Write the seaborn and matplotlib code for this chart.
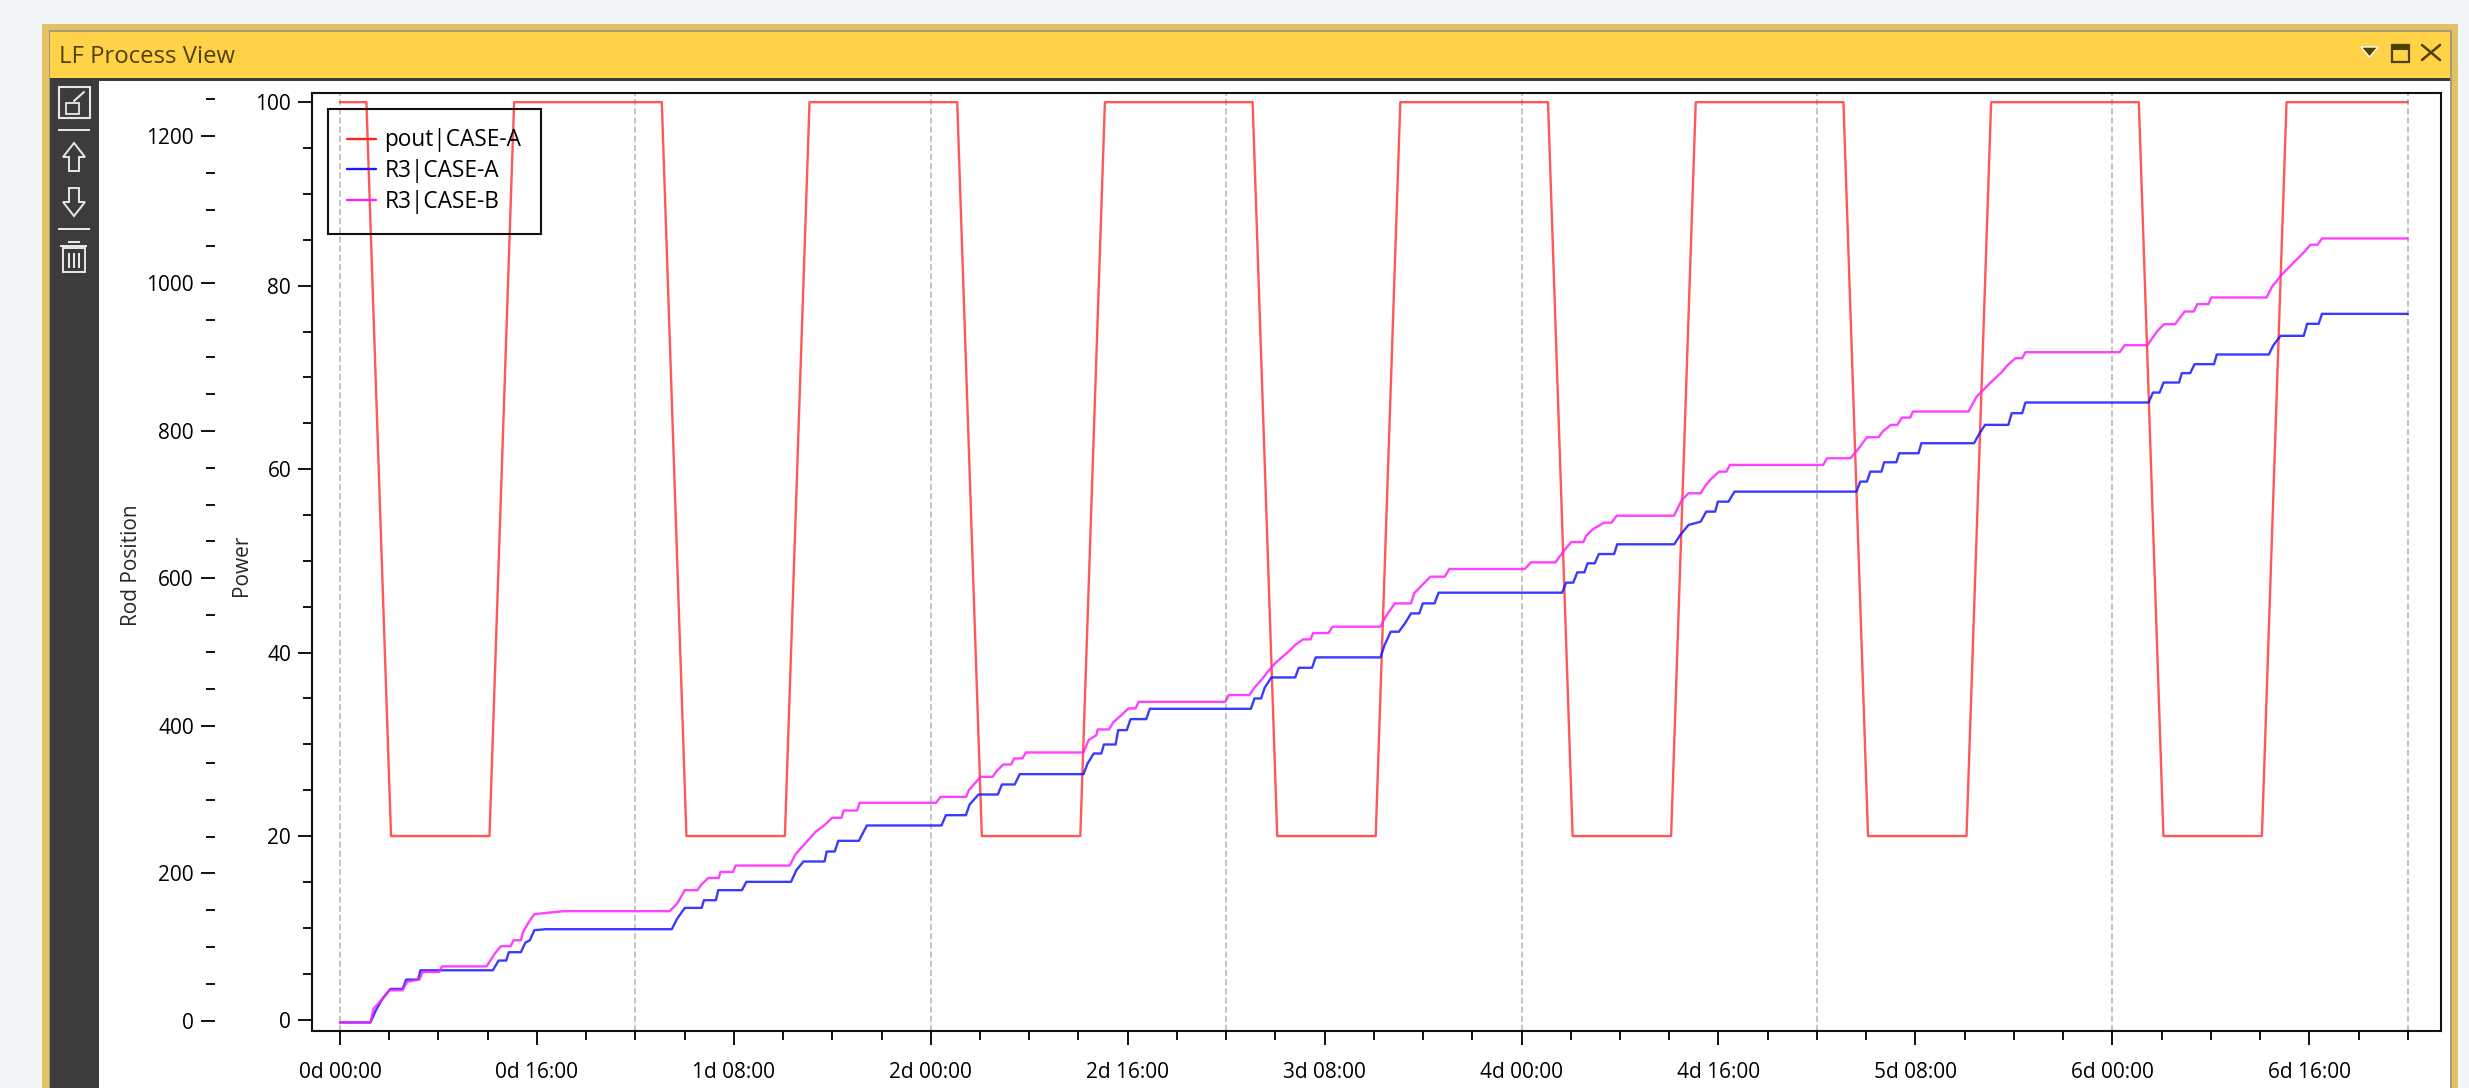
import matplotlib
matplotlib.use("Agg")
import matplotlib.pyplot as plt
import numpy as np
import seaborn as sns
from matplotlib.lines import Line2D
from matplotlib.patches import Polygon, Rectangle
from matplotlib.ticker import FixedLocator, MultipleLocator

# power schedule, hours from start
power_hours = [0, 2.15, 4.15, 12.15, 14.15, 26.15, 28.15, 36.15, 38.15, 50.15, 52.15, 60.15, 62.15, 74.15,
               76.15, 84.15, 86.15, 98.15, 100.15, 108.15, 110.15, 122.15, 124.15, 132.15, 134.15, 146.15,
               148.15, 156.15, 158.15, 168]
power_values = [100, 100, 20, 20, 100, 100, 20, 20, 100, 100, 20, 20, 100, 100, 20, 20, 100, 100, 20, 20,
                100, 100, 20, 20, 100, 100, 20, 20, 100, 100]

case_a_hours = [0, 2.48, 2.92, 3.46, 4.11, 5.09, 5.38, 6.36, 6.54, 12.42, 12.89, 13.51, 13.72, 14.7, 15.07,
                15.43, 15.79, 16.7, 26.96, 27.4, 28.02, 29.39, 29.57, 30.55, 30.73, 32.66, 33.02, 36.65,
                37.08, 37.66, 39.37, 39.55, 40.2, 40.49, 42.16, 42.81, 48.87, 49.23, 50.86, 51.16, 51.88,
                53.45, 53.78, 54.82, 55.23, 60.41, 60.74, 61.24, 61.86, 62.07, 63.02, 63.23, 63.93, 64.23,
                65.51, 65.8, 74.01, 74.3, 74.84, 75.13, 75.67, 77.61, 77.9, 78.98, 79.27, 84.54, 84.87,
                85.37, 86.03, 86.53, 87.02, 87.69, 87.98, 88.93, 89.26, 99.29, 99.62, 100.2, 100.53, 101.11,
                101.36, 101.94, 102.28, 103.52, 103.77, 108.41, 108.89, 109.56, 110.56, 111.0, 111.73,
                111.95, 112.81, 113.3, 123.21, 123.52, 124.06, 124.33, 125.24, 125.46, 126.45, 126.68,
                128.25, 128.48, 132.76, 133.21, 133.66, 135.55, 135.82, 136.67, 136.94, 146.94, 147.3,
                147.84, 148.16, 149.42, 149.64, 150.32, 150.68, 152.26, 152.48, 156.71, 157.07, 157.66,
                159.55, 159.82, 160.76, 161.03, 168]
case_a_rod = [-2, -2, 14.5, 30.3, 43.4, 43.4, 56.1, 56.1, 68.7, 68.7, 81.9, 81.9, 93.2, 93.2, 106.3,
              109.4, 123, 124.4, 124.4, 138.8, 153.3, 153.3, 163.7, 163.7, 177.3, 177.3, 188.6, 188.6,
              204.4, 216.2, 216.2, 229.7, 229.7, 244.2, 244.2, 265, 265, 279, 279, 293.5, 307,
              307, 320.6, 320.6, 334.6, 334.6, 349, 362.6, 362.6, 374.8, 374.8, 394.3, 394.3, 409.2,
              409.2, 423.2, 423.2, 437.2, 437.2, 451.7, 465.7, 465.7, 478.8, 478.8, 492.9, 492.9, 509.6,
              527.7, 527.7, 539, 552.5, 552.5, 566.1, 566.1, 580.6, 580.6, 594.2, 594.2, 608.2, 608.2,
              620.4, 620.4, 633, 633, 646.2, 646.2, 658.8, 672.4, 676.9, 690.5, 690.5,
              704, 704, 717.6, 717.6, 731.2, 731.2, 744.7, 744.7, 757.4, 757.4, 769.6,
              769.6, 783.2, 783.2, 796.7, 808.1, 808.1, 823.9, 823.9, 838.4, 838.4, 851.9,
              851.9, 865.5, 865.5, 878.2, 878.2, 890.4, 890.4, 903.5, 903.5, 915.7, 928.8,
              928.8, 945.1, 945.1, 958.6, 958.6]

case_b_hours = [0, 2.48, 2.73, 3.46, 4.0, 5.09, 5.45, 6.47, 6.72, 8.07, 8.28, 11.91, 12.64, 13.07, 13.87,
                14.09, 14.7, 14.89, 15.32, 15.79, 17.06, 18.15, 26.78, 27.4, 28.02, 29.03, 29.39, 29.94,
                30.77, 30.92, 31.93, 32.15, 36.54, 37.01, 37.55, 38.1, 38.64, 39.37, 39.98, 40.75, 40.93,
                42.01, 42.23, 48.44, 48.8, 50.88, 51.09, 51.62, 52.04, 53.03, 53.37, 53.9, 54.53, 54.77,
                55.44, 55.73, 60.41, 60.83, 61.45, 61.57, 62.48, 62.82, 63.4, 64.06, 64.64, 64.89, 71.93,
                72.22, 73.88, 74.3, 74.92, 75.42, 75.96, 76.58, 77.2, 77.61, 78.24, 78.86, 79.06, 80.31,
                80.64, 84.54, 84.95, 85.7, 87.02, 87.27, 87.98, 88.6, 89.76, 90.13, 96.27, 96.76, 98.75,
                99.08, 99.5, 100.04, 101.03, 101.24, 101.78, 102.69, 103.31, 103.73, 108.38, 109.02,
                109.56, 110.56, 110.92, 111.37, 112.04, 112.63, 112.94, 120.51, 120.82, 122.71, 123.3,
                124.06, 125.01, 125.33, 126.0, 126.54, 126.9, 127.58, 127.8, 132.31, 132.98, 133.66,
                134.33, 135.01, 135.46, 136.13, 136.67, 136.94, 144.6, 145, 146.85, 147.62, 148.2, 149.1,
                149.87, 150.63, 150.9, 151.8, 152.03, 156.53, 156.98, 157.75, 158.42, 159.1, 159.55,
                160.09, 160.67, 161.03, 168]
case_b_rod = [-2, -2, 16.7, 30, 41.6, 41.6, 53, 56.5, 66.5, 66.5, 74, 74, 92.7, 101.3, 101.3,
              109.4, 109.4, 120.8, 133.4, 144.7, 147, 148.8, 148.8, 159.2, 177.3, 177.3, 185.4, 194,
              194, 202, 202, 210.7, 210.7, 226, 236, 246, 256.4, 265.5, 275.4, 275.4, 285.3,
              285.3, 295.8, 295.8, 303.8, 303.8, 312.9, 322.8, 331, 331, 339.1, 347.7, 347.7, 355.9,
              355.9, 364, 364, 380.7, 387.5, 395.2, 395.2, 404.7, 413.3, 423.7, 423.7, 432.7, 432.7,
              441.8, 441.8, 451.7, 463.5, 474.3, 484.7, 493.8, 502.8, 509.6, 517.3, 517.3, 525.9, 525.9,
              534.5, 534.5, 548, 566.1, 566.1, 579.7, 591.9, 602.3, 602.3, 612.7, 612.7, 621.7, 621.7,
              629.4, 638.5, 649.3, 649.3, 657.5, 666.5, 675.5, 675.5, 685, 685, 706.3,
              715.4, 715.4, 725.3, 734.3, 744.7, 744.7, 753.8, 753.8, 762.8, 762.8, 774.2,
              791.3, 791.3, 799, 808.1, 808.1, 818, 818, 826.2, 826.2, 846.5, 857.8,
              869.1, 879.5, 888.6, 898.5, 898.5, 906.6, 906.6, 916.1, 916.1, 934.7, 944.6, 944.6,
              961.8, 961.8, 971.8, 971.8, 980.8, 980.8, 995.7, 1011.6, 1022.9, 1034.2, 1041.9,
              1052.3, 1052.3, 1060.8, 1060.8]

major_hours = [0, 16, 32, 48, 64, 80, 96, 112, 128, 144, 160]
major_labels = ["0d 00:00", "0d 16:00", "1d 08:00", "2d 00:00", "2d 16:00", "3d 08:00",
                "4d 00:00", "4d 16:00", "5d 08:00", "6d 00:00", "6d 16:00"]
day_hours = [0, 24, 48, 72, 96, 120, 144, 168]
rod_ticks = [0, 200, 400, 600, 800, 1000, 1200]
power_ticks = [0, 20, 40, 60, 80, 100]

W, H = 2469, 1088
RED, BLUE, MAGENTA = "#ff2020", "#1818ff", "#ff20ff"
INK = "#4f4008"
LINE_W = 1.7

sns.set_theme(style="white")
plt.rcParams["font.family"] = ["Open Sans", "DejaVu Sans"]
plt.rcParams["text.color"] = "#000000"

fig = plt.figure(figsize=(W / 100, H / 100), dpi=100, facecolor="#f2f5f8")

# window chrome, in pixel coordinates of the picture
chrome = fig.add_axes([0, 0, 1, 1], zorder=0)
chrome.set_xlim(0, W)
chrome.set_ylim(H, 0)
chrome.axis("off")


def box(x0, y0, x1, y1, color, **kw):
    chrome.add_patch(Rectangle((x0, y0), x1 - x0, y1 - y0, facecolor=color, edgecolor="none", **kw))


box(42, 24, 2458, H, "#e2c064")
box(49, 30, 2452, H, "#a59c80")
box(50, 32, 2450, 78, "#ffd247")
box(50, 78, 2450, 81, "#3c3c3c")
box(50, 81, 99, H, "#3c3c3c")
box(99, 81, 2450, H, "white")
chrome.text(59, 57, "LF Process View", fontsize=17.2, color=INK, va="center", ha="left")

# title bar buttons
chrome.add_patch(Polygon([(2361, 47), (2378, 47), (2369.5, 57)], facecolor=INK))
chrome.add_patch(Rectangle((2392, 45), 17, 17, facecolor="none", edgecolor=INK, lw=1.6))
box(2392, 45, 2409, 50, INK)
chrome.plot([2422, 2440], [45, 60], color=INK, lw=1.8)
chrome.plot([2440, 2422], [45, 60], color=INK, lw=1.8)

# toolbar icons
ICON = "#e8e8e8"
chrome.add_patch(Rectangle((59, 87), 31, 31, facecolor="none", edgecolor=ICON, lw=1.5))
chrome.add_patch(Rectangle((66, 103), 13, 11, facecolor="none", edgecolor=ICON, lw=1.3))
chrome.plot([74, 84], [101, 92], color=ICON, lw=1.5)
box(58, 129, 90, 131, ICON)
box(58, 228, 90, 230, ICON)
up = [(74, 143), (85, 157), (79, 157), (79, 171), (69, 171), (69, 157), (63, 157)]
down = [(74, 216), (85, 202), (79, 202), (79, 188), (69, 188), (69, 202), (63, 202)]
chrome.add_patch(Polygon(up, facecolor="none", edgecolor=ICON, lw=1.4))
chrome.add_patch(Polygon(down, facecolor="none", edgecolor=ICON, lw=1.4))
chrome.add_patch(Rectangle((63, 248), 22, 24, facecolor="none", edgecolor=ICON, lw=1.4))
box(60, 245, 87, 247, ICON)
box(68, 241, 80, 243, ICON)
for vx in (69, 74, 79):
    box(vx - 1, 253, vx + 1, 268, ICON)

# plot frame
frame = [312 / W, 1 - 1031 / H, (2441 - 312) / W, (1031 - 93) / H]
ax = fig.add_axes(frame, zorder=1, facecolor="white")
rod_ax = ax.twinx()
rod_ax.set_zorder(2)
rod_ax.patch.set_visible(False)

for hour in day_hours:
    ax.axvline(hour, color="#b4b4b4", lw=1.1, ls=(0, (4, 2)), zorder=1)

sns.lineplot(x=power_hours, y=power_values, ax=ax, color=RED, lw=LINE_W, alpha=0.75,
             estimator=None, sort=False, legend=False, zorder=3)
sns.lineplot(x=case_a_hours, y=case_a_rod, ax=rod_ax, color=BLUE, lw=LINE_W, alpha=0.85,
             estimator=None, sort=False, legend=False)
sns.lineplot(x=case_b_hours, y=case_b_rod, ax=rod_ax, color=MAGENTA, lw=LINE_W, alpha=0.85,
             estimator=None, sort=False, legend=False)

ax.set_xlim(-2.27, 170.7)
ax.set_ylim(-1.25, 101.0)
rod_ax.set_ylim(-13.6, 1258)

ax.xaxis.set_major_locator(FixedLocator(major_hours))
ax.set_xticklabels(major_labels)
ax.xaxis.set_minor_locator(MultipleLocator(4))
ax.set_yticks(power_ticks)
ax.yaxis.set_minor_locator(MultipleLocator(5))

rod_ax.yaxis.tick_left()
rod_ax.spines["left"].set_position(("outward", 70))
rod_ax.spines["left"].set_visible(False)
rod_ax.spines["right"].set_visible(False)
rod_ax.spines["top"].set_visible(False)
rod_ax.spines["bottom"].set_visible(False)
rod_ax.set_yticks(rod_ticks)
rod_ax.yaxis.set_minor_locator(MultipleLocator(50))

for a in (ax, rod_ax):
    a.tick_params(axis="both", which="major", direction="out", length=10, width=1.4, color="#111111",
                  labelsize=15, labelcolor="#000000", left=True, bottom=True, pad=5)
    a.tick_params(axis="both", which="minor", direction="out", length=6.5, width=1.4, color="#111111",
                  left=True, bottom=True)
ax.tick_params(axis="x", which="major", pad=12)
for side in ax.spines.values():
    side.set_color("#111111")
    side.set_linewidth(1.5)

rod_ax.set_ylabel("Rod Position", fontsize=15)
rod_ax.yaxis.set_label_position("left")
rod_ax.yaxis.set_label_coords((142 - 312) / (2441 - 312), 0.497)
ax.set_ylabel("Power", fontsize=15)
ax.yaxis.set_label_coords((252 - 312) / (2441 - 312), 0.497)
ax.set_xlabel("")

handles = [Line2D([], [], color=RED, lw=LINE_W), Line2D([], [], color=BLUE, lw=LINE_W),
           Line2D([], [], color=MAGENTA, lw=LINE_W)]
leg = rod_ax.legend(handles, ["pout|CASE-A", "R3|CASE-A", "R3|CASE-B"], loc="upper left",
                    bbox_to_anchor=(328 / W, 1 - 109 / H), bbox_transform=fig.transFigure,
                    borderaxespad=0, fontsize=16.3, frameon=True, fancybox=False,
                    handlelength=1.25, handletextpad=0.38, labelspacing=0.3, borderpad=0.86)
leg.get_frame().set_alpha(None)
leg.get_frame().set_facecolor((1, 1, 1, 0))
leg.get_frame().set_edgecolor("#111111")
leg.get_frame().set_linewidth(1.5)

fig.savefig("out.png", dpi=100, facecolor=fig.get_facecolor())
